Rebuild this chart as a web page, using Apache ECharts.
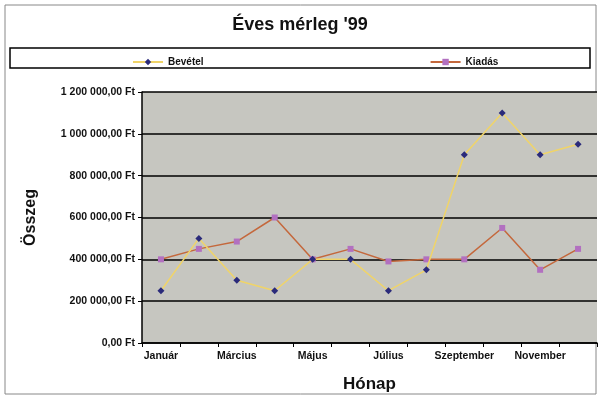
<!DOCTYPE html>
<html>
<head>
<meta charset="utf-8">
<script src="https://cdn.jsdelivr.net/npm/echarts@6/dist/echarts.min.js"></script>
<style>
  html, body { margin: 0; padding: 0; background: #fff; }
  #chart { width: 600px; height: 398px; }
</style>
</head>
<body>
<div id="chart"></div>
<script>
// months on the x axis
const months = ['Január', 'Február', 'Március', 'Április', 'Május', 'Június',
  'Július', 'Augusztus', 'Szeptember', 'Október', 'November', 'December']

// income and expense per month, in Ft
const bevetel = [250000, 500000, 300000, 250000, 400000, 400000,
  250000, 350000, 900000, 1100000, 900000, 950000]
const kiadas = [400000, 450000, 485000, 600000, 400000, 450000,
  390000, 400000, 400000, 550000, 350000, 450000]

const seriesNames = ['Bevétel', 'Kiadás']

// "1 200 000,00 Ft"
const formatFt = (v) => {
  const s = String(Math.round(v)).replace(/\B(?=(\d{3})+(?!\d))/g, ' ')
  return s + ',00 Ft'
}

const font = 'Liberation Sans, Arial, sans-serif'
const chart = echarts.init(document.getElementById('chart'))

chart.setOption({
  backgroundColor: '#fff',
  animation: false,
  title: {
    text: 'Éves mérleg \'99',
    left: 'center',
    top: 11,
    textStyle: { fontFamily: font, fontSize: 18, fontWeight: 'bold', color: '#111' }
  },
  graphic: [
    // outer chart border
    { type: 'rect', shape: { x: 5, y: 5, width: 591, height: 389 },
      style: { fill: 'none', stroke: '#888', lineWidth: 1 }, z: -1 },
    // legend box
    { type: 'rect', shape: { x: 10, y: 48, width: 580, height: 20 },
      style: { fill: '#fff', stroke: '#000', lineWidth: 1.5 }, z: -1 }
  ],
  legend: {
    data: seriesNames,
    top: 52,
    left: 127,
    itemGap: 226,
    itemWidth: 30,
    itemHeight: 8,
    textStyle: { fontFamily: font, fontSize: 10, fontWeight: 'bold', color: '#111' }
  },
  grid: {
    left: 142, right: 3, top: 92, bottom: 53,
    show: true,
    backgroundColor: '#c6c6c0',
    borderWidth: 0
  },
  xAxis: {
    type: 'category',
    data: months,
    boundaryGap: true,
    name: 'Hónap',
    nameLocation: 'middle',
    nameGap: 33,
    nameTextStyle: { fontFamily: font, fontSize: 17, fontWeight: 'bold', color: '#111' },
    axisLine: { lineStyle: { color: '#000', width: 1.5 } },
    axisTick: { show: true, alignWithLabel: false, interval: 0, length: 4, lineStyle: { color: '#000' } },
    axisLabel: {
      interval: 1,
      margin: 8,
      fontFamily: font, fontSize: 10.5, fontWeight: 'bold', color: '#111'
    },
    splitLine: { show: false }
  },
  yAxis: {
    type: 'value',
    min: 0,
    max: 1200000,
    interval: 200000,
    name: 'Összeg',
    nameLocation: 'middle',
    nameGap: 103,
    nameTextStyle: { fontFamily: font, fontSize: 16, fontWeight: 'bold', color: '#111' },
    axisLine: { show: true, lineStyle: { color: '#000', width: 1.5 } },
    axisTick: { show: true, length: 4, lineStyle: { color: '#000' } },
    axisLabel: {
      margin: 7,
      formatter: formatFt,
      fontFamily: font, fontSize: 10.5, fontWeight: 'bold', color: '#111'
    },
    splitLine: { show: true, lineStyle: { color: '#000', width: 1.5 } }
  },
  series: [
    {
      name: seriesNames[0],
      type: 'line',
      data: bevetel,
      symbol: 'diamond',
      symbolSize: 7,
      itemStyle: { color: '#2a2a7a' },
      lineStyle: { color: '#f0d468', width: 1.5 },
      z: 3
    },
    {
      name: seriesNames[1],
      type: 'line',
      data: kiadas,
      symbol: 'rect',
      symbolSize: 6,
      itemStyle: { color: '#b270c0' },
      lineStyle: { color: '#c4683c', width: 1.5 },
      z: 2
    }
  ]
})
</script>
</body>
</html>
